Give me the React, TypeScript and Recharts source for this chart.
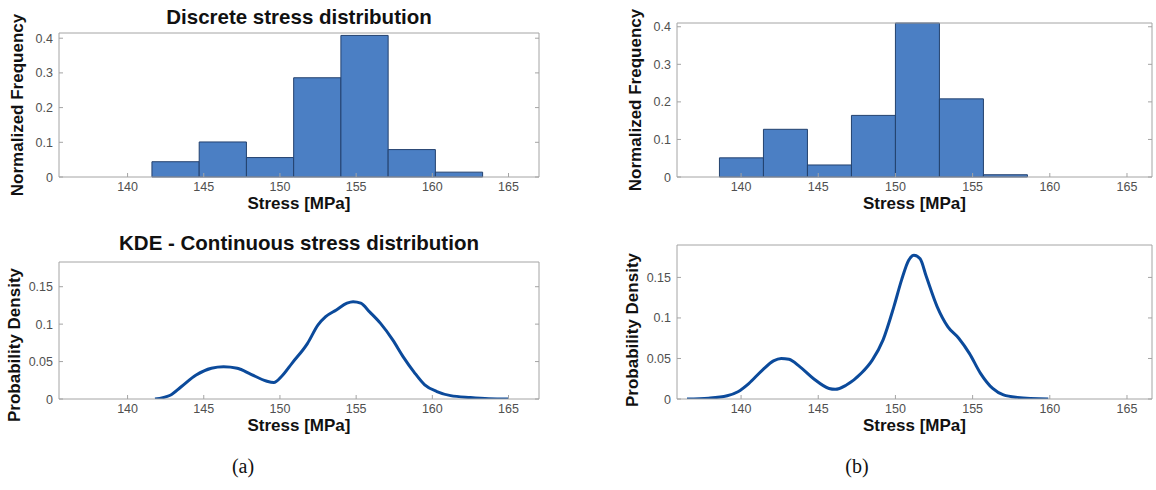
import React from 'react';
import { ComposedChart, Line, XAxis, YAxis, ReferenceArea } from 'recharts';

// ---------- data ----------
const xTicks = [140, 145, 150, 155, 160, 165];
const histYTicks = [0, 0.1, 0.2, 0.3, 0.4];
const kdeYTicks = [0, 0.05, 0.1, 0.15];

const binEdgesA = [141.6, 144.7, 147.8, 150.9, 154.0, 157.1, 160.2, 163.3];
const freqA = [0.044, 0.101, 0.056, 0.286, 0.408, 0.079, 0.014];

const binEdgesB = [138.6, 141.45, 144.3, 147.15, 150.0, 152.85, 155.7, 158.55];
const freqB = [0.051, 0.127, 0.032, 0.164, 0.41, 0.208, 0.006];

const kdeStressA = [141.8, 142.8, 143.5, 144.5, 145.5, 146.3, 147.2, 148.1, 149.1, 149.6, 150.1, 150.8, 151.8, 152.5, 153.0, 153.7, 154.4, 154.8, 155.3, 155.9, 156.6, 157.4, 158.1, 158.8, 159.5, 160.3, 161.2, 162.5, 163.7, 165.0];
const kdeDensityA = [0, 0.005, 0.016, 0.032, 0.041, 0.043, 0.041, 0.033, 0.024, 0.022, 0.03, 0.048, 0.074, 0.099, 0.11, 0.119, 0.128, 0.13, 0.128, 0.116, 0.101, 0.079, 0.056, 0.036, 0.019, 0.01, 0.0045, 0.002, 0.0005, 0];

const kdeStressB = [136.5, 137.9, 139.1, 139.8, 140.5, 141.4, 142.1, 142.6, 143.1, 143.8, 144.7, 145.7, 146.1, 146.8, 147.8, 148.5, 149.2, 149.9, 150.4, 150.85, 151.2, 151.6, 152.0, 152.7, 153.4, 154.1, 154.8, 155.5, 156.3, 157.0, 157.9, 159.9];
const kdeDensityB = [0, 0.001, 0.004, 0.009, 0.019, 0.036, 0.047, 0.05, 0.049, 0.04, 0.025, 0.013, 0.012, 0.017, 0.032, 0.048, 0.073, 0.114, 0.147, 0.171, 0.1775, 0.173, 0.151, 0.114, 0.089, 0.075, 0.056, 0.032, 0.013, 0.005, 0.002, 0];

const xDomainA: [number, number] = [135.5, 167];
const xDomainB: [number, number] = [135.85, 166.62];

// ---------- styles ----------
const AXIS = '#a4a4a4';
const TICKTXT = '#505050';
const FONT = '"Liberation Sans", Arial, Helvetica, sans-serif';
const BAR_FILL = '#4b7fc4';
const BAR_EDGE = '#23416e';
const KDE = '#0b4a9b';

const bins = (edges: number[], f: number[]) =>
  f.map((v, i) => ({ x0: edges[i], x1: edges[i + 1], mid: (edges[i] + edges[i + 1]) / 2, f: v }));
const kde = (s: number[], d: number[]) => s.map((v, i) => ({ s: v, d: d[i] }));

const BottomTick = (p: any) => (
  <g>
    <line x1={p.x} x2={p.x} y1={p.y} y2={p.y - 4} stroke={AXIS} />
    <text x={p.x} y={p.y + 14} textAnchor="middle" fontSize={12.5} fill={TICKTXT} fontFamily={FONT}>
      {p.payload.value}
    </text>
  </g>
);
const TopTick = (p: any) => <line x1={p.x} x2={p.x} y1={p.y} y2={p.y + 4} stroke={AXIS} />;
const LeftTick = (p: any) => (
  <g>
    <line x1={p.x} x2={p.x + 4} y1={p.y} y2={p.y} stroke={AXIS} />
    <text x={p.x - 6} y={p.y + 4.5} textAnchor="end" fontSize={12.5} fill={TICKTXT} fontFamily={FONT}>
      {p.payload.value}
    </text>
  </g>
);
const RightTick = (p: any) => <line x1={p.x} x2={p.x - 4} y1={p.y} y2={p.y} stroke={AXIS} />;

type PanelProps = {
  left: number; top: number; width: number; height: number;
  box: { x0: number; x1: number; y0: number; y1: number };
  xDomain: [number, number]; yDomain: [number, number]; yTicks: number[];
  data: any[]; xKey: string; children?: React.ReactNode;
};

// box = plot-area rectangle in page coordinates
function Panel({ left, top, width, height, box, xDomain, yDomain, yTicks, data, xKey, children }: PanelProps) {
  const margin = {
    left: box.x0 - left - 1,
    right: left + width - box.x1 - 1,
    top: box.y0 - top - 1,
    bottom: top + height - box.y1 - 1,
  };
  return (
    <div style={{ position: 'absolute', left, top, width, height }}>
      <ComposedChart width={width} height={height} margin={margin} data={data}>
        <XAxis type="number" dataKey={xKey} domain={xDomain} ticks={xTicks} interval={0} allowDataOverflow
          height={1} tickSize={0} tickMargin={0} tick={BottomTick} tickLine={false} axisLine={{ stroke: AXIS }} />
        <XAxis xAxisId="top" orientation="top" type="number" domain={xDomain} ticks={xTicks} interval={0} allowDataOverflow
          height={1} tickSize={0} tickMargin={0} tick={TopTick} tickLine={false} axisLine={{ stroke: AXIS }} />
        <YAxis type="number" domain={yDomain} ticks={yTicks} interval={0} allowDataOverflow
          width={1} tickSize={0} tickMargin={0} tick={LeftTick} tickLine={false} axisLine={{ stroke: AXIS }} />
        <YAxis yAxisId="right" orientation="right" type="number" domain={yDomain} ticks={yTicks} interval={0} allowDataOverflow
          width={1} tickSize={0} tickMargin={0} tick={RightTick} tickLine={false} axisLine={{ stroke: AXIS }} />
        {children}
      </ComposedChart>
    </div>
  );
}

function HistBars(b: { x0: number; x1: number; f: number }[]) {
  return b.map((d, i) => (
    <ReferenceArea key={i} x1={d.x0} x2={d.x1} y1={0} y2={d.f} fill={BAR_FILL} fillOpacity={1}
      stroke={BAR_EDGE} strokeWidth={1} ifOverflow="visible" />
  ));
}

export default function App() {
  const binsA = bins(binEdgesA, freqA);
  const binsB = bins(binEdgesB, freqB);
  const kdeA = kde(kdeStressA, kdeDensityA);
  const kdeB = kde(kdeStressB, kdeDensityB);
  const lab = { fontFamily: FONT, fontWeight: 700 as const, fill: '#111' };
  const serif = '"Liberation Serif", "Times New Roman", serif';
  return (
    <div style={{ position: 'absolute', left: 0, top: 0, width: 1156, height: 490, background: '#fff', overflow: 'hidden' }}>
      <Panel left={0} top={0} width={578} height={230} box={{ x0: 59, x1: 539, y0: 33, y1: 177 }}
        xDomain={xDomainA} yDomain={[0, 0.415]} yTicks={histYTicks} data={binsA} xKey="mid">
        {HistBars(binsA)}
      </Panel>
      <Panel left={578} top={0} width={578} height={230} box={{ x0: 677, x1: 1152, y0: 23, y1: 177 }}
        xDomain={xDomainB} yDomain={[0, 0.41]} yTicks={histYTicks} data={binsB} xKey="mid">
        {HistBars(binsB)}
      </Panel>
      <Panel left={0} top={230} width={578} height={260} box={{ x0: 59, x1: 539, y0: 262, y1: 399 }}
        xDomain={xDomainA} yDomain={[0, 0.183]} yTicks={kdeYTicks} data={kdeA} xKey="s">
        <Line dataKey="d" type="monotone" stroke={KDE} strokeWidth={3} dot={false} isAnimationActive={false} />
      </Panel>
      <Panel left={578} top={230} width={578} height={260} box={{ x0: 677, x1: 1152, y0: 245, y1: 399 }}
        xDomain={xDomainB} yDomain={[0, 0.19]} yTicks={kdeYTicks} data={kdeB} xKey="s">
        <Line dataKey="d" type="monotone" stroke={KDE} strokeWidth={3} dot={false} isAnimationActive={false} />
      </Panel>
      <svg width={1156} height={490} style={{ position: 'absolute', left: 0, top: 0, pointerEvents: 'none' }}>
        <text x={299} y={24} textAnchor="middle" fontSize={20.5} {...lab}>Discrete stress distribution</text>
        <text x={299} y={250} textAnchor="middle" fontSize={20.5} {...lab}>KDE - Continuous stress distribution</text>
        <text x={299} y={209} textAnchor="middle" fontSize={17} {...lab}>Stress [MPa]</text>
        <text x={914.5} y={209} textAnchor="middle" fontSize={17} {...lab}>Stress [MPa]</text>
        <text x={299} y={431} textAnchor="middle" fontSize={17} {...lab}>Stress [MPa]</text>
        <text x={914.5} y={431} textAnchor="middle" fontSize={17} {...lab}>Stress [MPa]</text>
        <text transform="translate(17,105) rotate(-90)" textAnchor="middle" dy="0.35em" fontSize={17} {...lab}>Normalized Frequency</text>
        <text transform="translate(635,100) rotate(-90)" textAnchor="middle" dy="0.35em" fontSize={17} {...lab}>Normalized Frequency</text>
        <text transform="translate(14,345) rotate(-90)" textAnchor="middle" dy="0.35em" fontSize={17} {...lab}>Probability Density</text>
        <text transform="translate(632,330) rotate(-90)" textAnchor="middle" dy="0.35em" fontSize={17} {...lab}>Probability Density</text>
        <text x={243} y={473} textAnchor="middle" fontSize={20} fontFamily={serif} fill="#111">(a)</text>
        <text x={857} y={473} textAnchor="middle" fontSize={20} fontFamily={serif} fill="#111">(b)</text>
      </svg>
    </div>
  );
}
